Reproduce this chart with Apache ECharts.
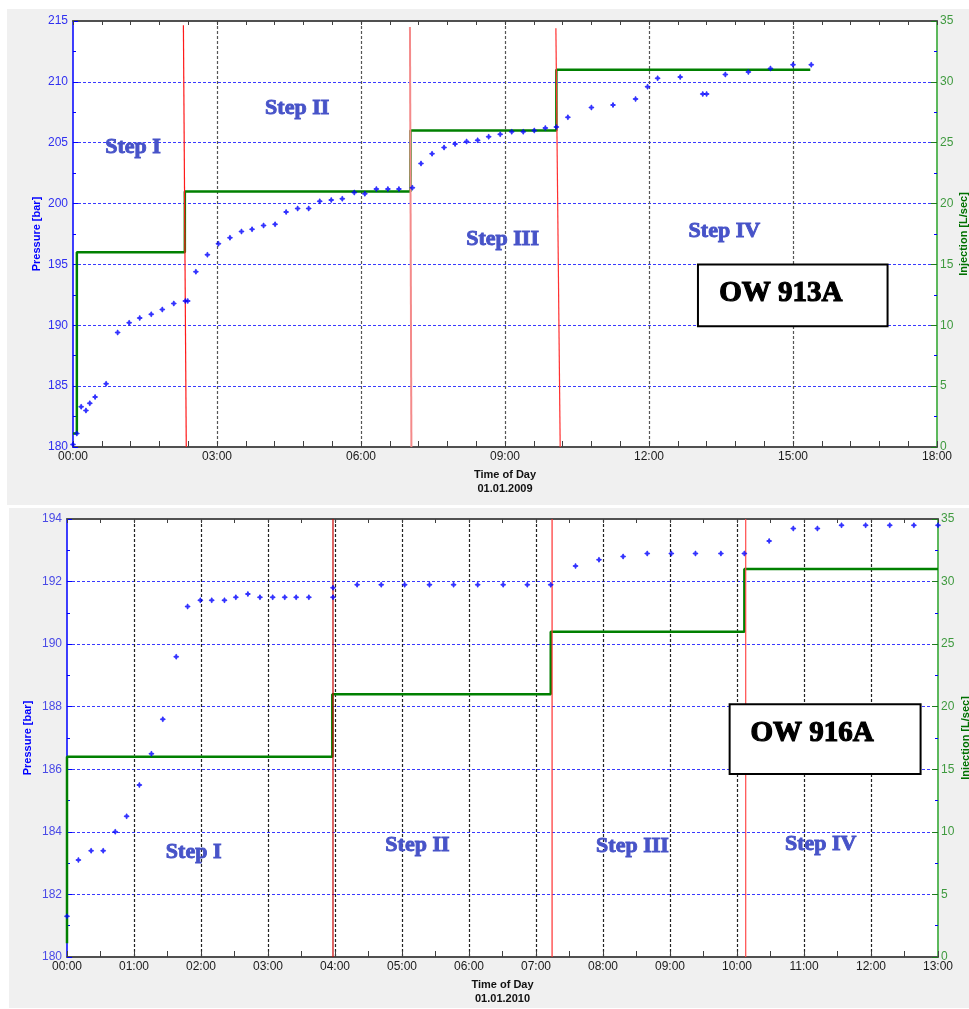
<!DOCTYPE html>
<html>
<head>
<meta charset="utf-8">
<script src="https://cdn.jsdelivr.net/npm/echarts@6/dist/echarts.min.js"></script>
<style>
  html, body { margin: 0; padding: 0; background: #ffffff; }
  .panel { position: absolute; background: #f0f0f0; }
  #chart { position: absolute; left: 0; top: 0; width: 969px; height: 1009px; }
</style>
</head>
<body>
<div class="panel" style="left:7px;top:9px;width:962px;height:496px"></div>
<div class="panel" style="left:9px;top:508px;width:960px;height:500px"></div>
<div id="chart"></div>
<script>
// ---------- OW 913A (01.01.2009) ----------
const ow913Times = [0.00, 0.08, 0.17, 0.27, 0.35, 0.46, 0.69, 0.93, 1.17, 1.39, 1.63, 1.86, 2.10, 2.34, 2.39,
  2.56, 2.80, 3.03, 3.27, 3.51, 3.73, 3.97, 4.21, 4.44, 4.68, 4.91, 5.14, 5.38, 5.61, 5.86, 6.08, 6.32, 6.56,
  6.79, 7.07, 7.25, 7.48, 7.73, 7.96, 8.20, 8.43, 8.66, 8.90, 9.14, 9.38, 9.61, 9.84, 10.07, 10.31, 10.80,
  11.25, 11.72, 11.97, 12.18, 12.65, 13.12, 13.20, 13.59, 14.07, 14.53, 15.00, 15.38];
const ow913Pressure = [180.2, 181.1, 183.3, 183.0, 183.6, 184.1, 185.2, 189.4, 190.2, 190.6, 190.9, 191.3, 191.8, 192.0, 192.0,
  194.4, 195.8, 196.7, 197.2, 197.7, 197.9, 198.2, 198.3, 199.3, 199.6, 199.6, 200.2, 200.3, 200.4, 200.9, 200.8, 201.2, 201.2,
  201.2, 201.3, 203.3, 204.1, 204.6, 204.9, 205.1, 205.2, 205.5, 205.7, 205.9, 205.9, 206.0, 206.2, 206.3, 207.1, 207.9,
  208.1, 208.6, 209.6, 210.3, 210.4, 209.0, 209.0, 210.6, 210.8, 211.1, 211.4, 211.4];
const ow913InjTimes = [0, 0.08, 2.33, 7.03, 10.07, 15.36];
const ow913InjRates = [1.1, 16, 21, 26, 31, 31];
// step boundary markers: time at the top end, time at the bottom end, pressure at the top end
const ow913BoundTop = [2.30, 7.02, 10.06];
const ow913BoundBottom = [2.36, 7.05, 10.15];
const ow913BoundTopP = [214.65, 214.5, 214.4];
// step captions [time, pressure]
const ow913StepPos = [[1.25, 204.6], [4.67, 207.8], [8.95, 197.1], [13.57, 197.7]];
// well name box [t1, pTop, t2, pBottom]
const ow913Box = [[13.02, 195.0, 16.97, 189.93]];

// ---------- OW 916A (01.01.2010) ----------
const ow916Times = [0.00, 0.17, 0.36, 0.54, 0.72, 0.89, 1.08, 1.26, 1.43, 1.63, 1.80, 1.99, 2.16, 2.35, 2.52,
  2.70, 2.88, 3.07, 3.25, 3.42, 3.61, 3.97, 3.97, 4.33, 4.69, 5.04, 5.41, 5.77, 6.13, 6.51, 6.87, 7.22,
  7.59, 7.94, 8.30, 8.66, 9.02, 9.38, 9.76, 10.11, 10.48, 10.84, 11.20, 11.56, 11.92, 12.28, 12.64, 13.00];
const ow916Pressure = [181.3, 183.1, 183.4, 183.4, 184.0, 184.5, 185.5, 186.5, 187.6, 189.6, 191.2, 191.4, 191.4, 191.4, 191.5,
  191.6, 191.5, 191.5, 191.5, 191.5, 191.5, 191.5, 191.8, 191.9, 191.9, 191.9, 191.9, 191.9, 191.9, 191.9, 191.9, 191.9,
  192.5, 192.7, 192.8, 192.9, 192.9, 192.9, 192.9, 192.9, 193.3, 193.7, 193.7, 193.8, 193.8, 193.8, 193.8, 193.8];
const ow916InjTimes = [0, 0, 3.96, 7.22, 10.11, 13];
const ow916InjRates = [1.1, 16, 21, 26, 31, 31];
const ow916BoundTop = [3.97, 7.24, 10.13];
const ow916BoundBottom = [3.97, 7.24, 10.13];
const ow916BoundTopP = [194, 194, 194];
const ow916StepPos = [[1.89, 183.34], [5.23, 183.58], [8.44, 183.53], [11.25, 183.61]];
const ow916Box = [[9.89, 188.08, 12.74, 185.85]];

const stepNames = ['Step I', 'Step II', 'Step III', 'Step IV'];
const wellNames = ['OW 913A', 'OW 916A'];

const SANS = '"Liberation Sans", Arial, sans-serif';
const SERIF = '"Liberation Serif", "Times New Roman", serif';
const hourLabel = v => String(Math.round(v)).padStart(2, '0') + ':00';
const pairs = (a, b) => a.map((v, i) => [v, b[i]]);
// small filled plus/diamond marker
const STAR = 'path://M0,-3 L1,-2 L1,-1 L2,-1 L3,0 L2,1 L1,1 L1,2 L0,3 L-1,2 L-1,1 L-2,1 L-3,0 L-2,-1 L-1,-1 L-1,-2 Z';

function xAxes(grid, max, interval, minorSplit, title, gridColor) {
  return [
    {
      type: 'value', gridIndex: grid, position: 'bottom', min: 0, max: max, interval: interval,
      axisLine: { show: true, onZero: false, lineStyle: { color: '#505050', width: 2 } },
      axisTick: { show: true, inside: true, length: 6, lineStyle: { color: '#404040' } },
      minorTick: { show: true, splitNumber: minorSplit, length: 6, lineStyle: { color: '#404040' } },
      axisLabel: { formatter: hourLabel, color: '#1a1a1a', fontSize: 12, fontFamily: SANS, margin: 4 },
      splitLine: { show: true, showMinLine: false, showMaxLine: false, lineStyle: { color: gridColor, type: [3, 2], width: 1.2 } },
      name: title, nameLocation: 'middle', nameGap: 21, nameMoveOverlap: false,
      nameTextStyle: { color: '#111', fontSize: 11, fontWeight: 'bold', fontFamily: SANS, lineHeight: 14 }
    },
    {
      type: 'value', gridIndex: grid, position: 'top', min: 0, max: max, interval: interval,
      axisLine: { show: true, onZero: false, lineStyle: { color: '#505050', width: 2 } },
      axisTick: { show: true, inside: true, length: 4, lineStyle: { color: '#404040' } },
      minorTick: { show: true, splitNumber: minorSplit, length: 4, lineStyle: { color: '#404040' } },
      axisLabel: { show: false }, splitLine: { show: false }
    }
  ];
}

function yAxes(grid, pMin, pMax, pInterval, leftGap, rightGap, leftLabelColor) {
  return [
    {
      type: 'value', gridIndex: grid, position: 'left', min: pMin, max: pMax, interval: pInterval,
      axisLine: { show: true, onZero: false, lineStyle: { color: '#0000ff', width: 1.5 } },
      axisTick: { show: true, inside: true, length: 5, lineStyle: { color: '#0000ff' } },
      minorTick: { show: true, splitNumber: 2, length: 3, lineStyle: { color: '#0000ff' } },
      axisLabel: { color: leftLabelColor, fontSize: 12, fontFamily: SANS, margin: 5 },
      splitLine: { show: true, showMinLine: false, showMaxLine: false, lineStyle: { color: '#3a3aff', type: [3, 2], width: 1.2 } },
      name: 'Pressure [bar]', nameLocation: 'middle', nameRotate: 90, nameGap: leftGap, nameMoveOverlap: false,
      nameTextStyle: { color: '#0000ff', fontSize: 11, fontWeight: 'bold', fontFamily: SANS }
    },
    {
      type: 'value', gridIndex: grid, position: 'right', min: 0, max: 35, interval: 5,
      axisLine: { show: true, onZero: false, lineStyle: { color: '#5cb85c', width: 2 } },
      axisTick: { show: true, inside: true, length: 6, lineStyle: { color: '#1f7a1f' } },
      minorTick: { show: true, splitNumber: 2, length: 3, lineStyle: { color: '#0000ff' } },
      axisLabel: { color: '#3f9a3f', fontSize: 12, fontFamily: SANS, margin: 3 },
      splitLine: { show: false },
      name: 'Injection [L/sec]', nameLocation: 'middle', nameRotate: 90, nameGap: rightGap, nameMoveOverlap: false,
      nameTextStyle: { color: '#007000', fontSize: 11, fontWeight: 'bold', fontFamily: SANS }
    }
  ];
}

// heavy serif caption; a thin outline of the same colour gives the bold look
function captionText(x, y, text, size, color, stroke) {
  return {
    type: 'text', x: x, y: y,
    style: { text: text, fill: color, stroke: color, lineWidth: stroke,
             fontSize: size, fontWeight: 'bold', fontFamily: SERIF,
             align: 'center', verticalAlign: 'middle' }
  };
}

// white framed box spanning [t1, pTop] .. [t2, pBottom] with the well name
function boxRenderer(label, dx, dy) {
  return function (params, api) {
    const a = api.coord([api.value(0), api.value(1)]);
    const b = api.coord([api.value(2), api.value(3)]);
    return {
      type: 'group',
      children: [
        { type: 'rect', shape: { x: a[0], y: a[1], width: b[0] - a[0], height: b[1] - a[1] },
          style: { fill: '#ffffff', stroke: '#000000', lineWidth: 2 } },
        captionText((a[0] + b[0]) / 2 + dx, (a[1] + b[1]) / 2 + dy, label, 29, '#000000', 1.2)
      ]
    };
  };
}

function captionRenderer(params, api) {
  const p = api.coord([api.value(0), api.value(1)]);
  return captionText(p[0], p[1], stepNames[params.dataIndex], 22, '#4753c8', 0.9);
}

function boundarySeries(xi, yi, tops, bottoms, topP, pMin, colors, widths) {
  return tops.map((t, i) => ({
    type: 'line', xAxisIndex: xi, yAxisIndex: yi, z: 4, showSymbol: false, symbol: 'none',
    data: [[t, topP[i]], [bottoms[i], pMin]],
    lineStyle: { color: colors[i], width: widths[i] }, clip: false
  }));
}

function wellSeries(xi, yPi, yIi, times, pressure, injT, injR, bTop, bBot, bTopP, pMin, bColors, bWidths,
                    stepPos, box, label, dx, dy) {
  return [
    { type: 'line', xAxisIndex: xi, yAxisIndex: yIi, z: 3, step: 'end', showSymbol: false, symbol: 'none',
      data: pairs(injT, injR), lineStyle: { color: '#008000', width: 2.5 } },
    ...boundarySeries(xi, yPi, bTop, bBot, bTopP, pMin, bColors, bWidths),
    { type: 'custom', xAxisIndex: xi, yAxisIndex: yPi, z: 5, data: box,
      encode: { x: [0, 2], y: [1, 3] }, renderItem: boxRenderer(label, dx, dy) },
    { type: 'custom', xAxisIndex: xi, yAxisIndex: yPi, z: 6, data: stepPos,
      encode: { x: 0, y: 1 }, renderItem: captionRenderer },
    { type: 'scatter', xAxisIndex: xi, yAxisIndex: yPi, z: 7, data: pairs(times, pressure),
      symbol: STAR, symbolSize: 6, itemStyle: { color: '#0000ff' } }
  ];
}

const chart = echarts.init(document.getElementById('chart'), null, { renderer: 'canvas' });
chart.setOption({
  animation: false,
  backgroundColor: 'transparent',
  grid: [
    { left: 73, top: 21, width: 864, height: 426, show: true, backgroundColor: '#ffffff', borderWidth: 0, outerBoundsMode: 'none', containLabel: false },
    { left: 67, top: 519, width: 871, height: 438, show: true, backgroundColor: '#ffffff', borderWidth: 0, outerBoundsMode: 'none', containLabel: false }
  ],
  xAxis: [
    ...xAxes(0, 18, 3, 5, 'Time of Day\n01.01.2009', '#555555'),
    ...xAxes(1, 13, 1, 2, 'Time of Day\n01.01.2010', '#222222')
  ],
  yAxis: [
    ...yAxes(0, 180, 215, 5, 31, 21, '#2f2ff0'),
    ...yAxes(1, 180, 194, 2, 34, 22, '#4a4ae6')
  ],
  series: [
    ...wellSeries(0, 0, 1, ow913Times, ow913Pressure, ow913InjTimes, ow913InjRates,
      ow913BoundTop, ow913BoundBottom, ow913BoundTopP, 180,
      ['#ff1a1a', '#f48a8a', '#ff3030'], [1.2, 2, 1.2], ow913StepPos, ow913Box, wellNames[0], -12, -2),
    ...wellSeries(2, 2, 3, ow916Times, ow916Pressure, ow916InjTimes, ow916InjRates,
      ow916BoundTop, ow916BoundBottom, ow916BoundTopP, 180,
      ['#c80000', '#ff3030', '#ff4a4a'], [1.2, 1.2, 1.2], ow916StepPos, ow916Box, wellNames[1], -13, -6)
  ]
});
</script>
</body>
</html>
